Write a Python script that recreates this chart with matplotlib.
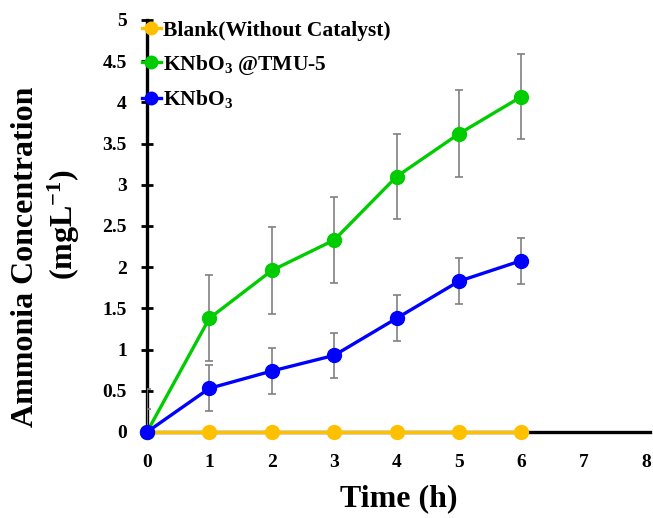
import matplotlib
matplotlib.use("Agg")
import matplotlib.pyplot as plt

time = [0, 1, 2, 3, 4, 5, 6]
blank = [0, 0, 0, 0, 0, 0, 0]
knbo3_tmu5 = [0, 1.38, 1.96, 2.33, 3.10, 3.62, 4.07]
knbo3_tmu5_err = [0.52, 0.52, 0.53, 0.52, 0.52, 0.53, 0.52]
knbo3 = [0, 0.53, 0.74, 0.93, 1.38, 1.83, 2.08]
knbo3_err = [0.28, 0.28, 0.28, 0.27, 0.28, 0.28, 0.28]
xticks = [0, 1, 2, 3, 4, 5, 6, 7, 8]
yticks = [0, 0.5, 1, 1.5, 2, 2.5, 3, 3.5, 4, 4.5, 5]
ytick_labels = ["0", "0.5", "1", "1.5", "2", "2.5", "3", "3.5", "4", "4.5", "5"]

plt.rcParams['font.family'] = ['Liberation Serif', 'DejaVu Serif']
plt.rcParams['font.weight'] = 'bold'
plt.rcParams['mathtext.fontset'] = 'custom'
plt.rcParams['mathtext.rm'] = 'Liberation Serif:bold'
plt.rcParams['mathtext.it'] = 'Liberation Serif:bold'
plt.rcParams['mathtext.bf'] = 'Liberation Serif:bold'

fig = plt.figure(figsize=(6.53, 5.18), dpi=100)
ax = fig.add_axes([147/653, 1-432/518, 503/653, 412/518])

lb, = ax.plot(time, blank, color='#FFC000', lw=2.4, marker='o', ms=10, zorder=5, clip_on=False)
ax.errorbar(time, knbo3_tmu5, yerr=knbo3_tmu5_err, fmt='none', ecolor='#808080',
            elinewidth=1.2, capsize=3, capthick=1.2, zorder=3)
lg, = ax.plot(time, knbo3_tmu5, color='#00CC00', lw=2.4, marker='o', ms=10, zorder=6, clip_on=False)
ax.errorbar(time, knbo3, yerr=knbo3_err, fmt='none', ecolor='#808080',
            elinewidth=1.2, capsize=3, capthick=1.2, zorder=3)
lbl, = ax.plot(time, knbo3, color='#0000FF', lw=2.4, marker='o', ms=10, zorder=7, clip_on=False)

ax.set_xlim(0, 8.06)
ax.set_ylim(0, 5)
ax.set_xticks(xticks)
ax.set_yticks(yticks)
ax.set_yticklabels(ytick_labels)
ax.spines['top'].set_visible(False)
ax.spines['right'].set_visible(False)
ax.spines['left'].set_linewidth(2.4)
ax.spines['bottom'].set_linewidth(2.4)
ax.tick_params(axis='y', direction='inout', length=9, width=2, labelsize=14, pad=10)
ax.tick_params(axis='x', length=0, labelsize=14, pad=16)
for lab in ax.get_xticklabels() + ax.get_yticklabels():
    lab.set_fontweight('bold')

ax.set_xlabel('Time (h)', fontsize=23, fontweight='bold', labelpad=9)
fig.text(26/653, 1-257/518, 'Ammonia Concentration', rotation=90, fontsize=23,
         fontweight='bold', ha='center', va='center')
fig.text(64/653, 1-225/518, '(mgL$^{-1}$)', rotation=90, fontsize=23,
         fontweight='bold', ha='center', va='center')

leg = ax.legend([lb, lg, lbl], ['Blank(Without Catalyst)', 'KNbO$_3$ @TMU-5', 'KNbO$_3$'],
                loc='upper left', bbox_to_anchor=(133/653, 1-12/518), bbox_transform=fig.transFigure,
                frameon=False, fontsize=15.5, handlelength=0.9, handletextpad=0.1,
                labelspacing=0.55, borderaxespad=0, markerscale=0.9)
for t in leg.get_texts():
    t.set_fontweight('bold')
leg.set_zorder(10)

fig.savefig('out.png', dpi=100)
